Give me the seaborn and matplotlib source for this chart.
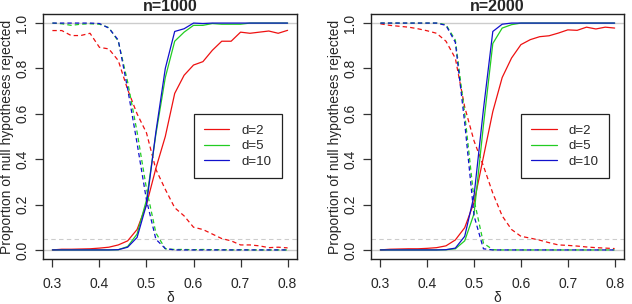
import numpy as np
import pandas as pd
import seaborn as sns
import matplotlib as mpl
mpl.use('Agg')
import matplotlib.pyplot as plt
from matplotlib.lines import Line2D

# grid of delta values
delta = [0.30, 0.32, 0.34, 0.36, 0.38, 0.40, 0.42, 0.44, 0.46, 0.48, 0.50, 0.52, 0.54,
         0.56, 0.58, 0.60, 0.62, 0.64, 0.66, 0.68, 0.70, 0.72, 0.74, 0.76, 0.78, 0.80]

# n = 1000, solid lines
alt_d2_1000 = [0.000, 0.003, 0.003, 0.004, 0.005, 0.008, 0.012, 0.022, 0.040, 0.090, 0.200, 0.360, 0.500,
               0.690, 0.770, 0.815, 0.830, 0.880, 0.920, 0.920, 0.960, 0.955, 0.960, 0.965, 0.955, 0.968]
alt_d5_1000 = [0.000, 0.000, 0.000, 0.000, 0.000, 0.000, 0.000, 0.001, 0.015, 0.070, 0.220, 0.510, 0.760,
               0.920, 0.960, 0.990, 0.990, 0.998, 0.995, 0.995, 0.995, 1.000, 1.000, 1.000, 1.000, 1.000]
alt_d10_1000 = [0.000, 0.000, 0.000, 0.000, 0.000, 0.000, 0.000, 0.001, 0.012, 0.055, 0.200, 0.520, 0.800,
                0.963, 0.975, 1.000, 0.998, 1.000, 1.000, 1.000, 1.000, 1.000, 1.000, 1.000, 1.000, 1.000]
# n = 1000, dashed lines
null_d2_1000 = [0.967, 0.967, 0.945, 0.945, 0.955, 0.893, 0.886, 0.835, 0.707, 0.600, 0.516, 0.355, 0.267,
                0.186, 0.150, 0.100, 0.090, 0.070, 0.050, 0.040, 0.022, 0.022, 0.018, 0.010, 0.012, 0.009]
null_d5_1000 = [1.000, 0.997, 0.990, 0.995, 0.997, 0.995, 0.980, 0.920, 0.740, 0.520, 0.270, 0.075, 0.005,
                0.002, 0.002, 0.001, 0.002, 0.001, 0.001, 0.000, 0.001, 0.000, 0.000, 0.000, 0.000, 0.000]
null_d10_1000 = [1.000, 1.000, 1.000, 1.000, 1.000, 0.998, 0.978, 0.925, 0.710, 0.470, 0.220, 0.047, 0.006,
                 0.000, 0.000, 0.000, 0.000, 0.000, 0.000, 0.000, 0.000, 0.000, 0.000, 0.000, 0.000, 0.000]

# n = 2000, solid lines
alt_d2_2000 = [0.000, 0.003, 0.004, 0.005, 0.005, 0.007, 0.010, 0.018, 0.044, 0.098, 0.210, 0.410, 0.610,
               0.760, 0.846, 0.905, 0.927, 0.940, 0.944, 0.956, 0.970, 0.968, 0.982, 0.974, 0.982, 0.978]
alt_d5_2000 = [0.000, 0.000, 0.000, 0.000, 0.000, 0.000, 0.000, 0.001, 0.005, 0.040, 0.160, 0.550, 0.910,
               0.978, 0.993, 1.000, 1.000, 1.000, 1.000, 1.000, 1.000, 1.000, 1.000, 1.000, 1.000, 1.000]
alt_d10_2000 = [0.000, 0.000, 0.000, 0.000, 0.000, 0.000, 0.000, 0.001, 0.008, 0.060, 0.240, 0.620, 0.963,
                0.995, 1.000, 1.000, 1.000, 1.000, 1.000, 1.000, 1.000, 1.000, 1.000, 1.000, 1.000, 1.000]
# n = 2000, dashed lines
null_d2_2000 = [0.997, 0.990, 0.986, 0.982, 0.975, 0.966, 0.955, 0.920, 0.845, 0.630, 0.480, 0.370, 0.250,
                0.150, 0.090, 0.060, 0.052, 0.043, 0.032, 0.022, 0.020, 0.017, 0.013, 0.010, 0.008, 0.006]
null_d5_2000 = [1.000, 1.000, 1.000, 1.000, 1.000, 1.000, 1.000, 0.993, 0.925, 0.600, 0.220, 0.030, 0.001,
                0.000, 0.000, 0.000, 0.000, 0.000, 0.000, 0.000, 0.000, 0.000, 0.000, 0.000, 0.000, 0.000]
null_d10_2000 = [1.000, 1.000, 1.000, 1.000, 1.000, 1.000, 1.000, 0.990, 0.915, 0.560, 0.150, 0.005, 0.000,
                 0.000, 0.000, 0.000, 0.000, 0.000, 0.000, 0.000, 0.000, 0.000, 0.000, 0.000, 0.000, 0.000]

d_labels = ["d=2", "d=5", "d=10"]
colors = {"d=2": "#ee1111", "d=5": "#22cc22", "d=10": "#1111cc"}

series = {
    1000: {"alt": [alt_d2_1000, alt_d5_1000, alt_d10_1000],
           "null": [null_d2_1000, null_d5_1000, null_d10_1000]},
    2000: {"alt": [alt_d2_2000, alt_d5_2000, alt_d10_2000],
           "null": [null_d2_2000, null_d5_2000, null_d10_2000]},
}

rows = []
for n, tests in series.items():
    for test, vals in tests.items():
        for lab, ys in zip(d_labels, vals):
            for x, y in zip(delta, ys):
                rows.append((n, test, lab, x, y))
df = pd.DataFrame(rows, columns=["n", "test", "d", "delta", "prop"])

sns.set_style("white")
plt.rcParams['font.family'] = ['Liberation Sans', 'DejaVu Sans']

fig = plt.figure(figsize=(6.32, 3.04), dpi=100)
positions = {1000: [43 / 632, 45 / 304, 254 / 632, 245 / 304],
             2000: [371 / 632, 45 / 304, 253 / 632, 245 / 304]}

for n in [1000, 2000]:
    ax = fig.add_axes(positions[n])
    # reference lines
    ax.axhline(1.0, color="#cccccc", lw=1.0, zorder=1)
    ax.axhline(0.0, color="#cccccc", lw=1.0, zorder=1)
    ax.axhline(0.05, color="#cccccc", lw=0.8, ls=(0, (4, 3)), zorder=1)

    sub = df[df["n"] == n]
    sns.lineplot(data=sub, x="delta", y="prop", hue="d", style="test",
                 hue_order=d_labels, palette=colors, style_order=["alt", "null"],
                 dashes={"alt": "", "null": (3.5, 2.5)}, estimator=None,
                 legend=False, lw=0.9, ax=ax, zorder=3)

    ax.set_xlim(0.28, 0.82)
    ax.set_ylim(-0.04, 1.04)
    ax.set_xticks([0.3, 0.4, 0.5, 0.6, 0.7, 0.8])
    ax.set_yticks([0.0, 0.2, 0.4, 0.6, 0.8, 1.0])
    ax.set_xticklabels(["0.3", "0.4", "0.5", "0.6", "0.7", "0.8"])
    ax.set_yticklabels(["0.0", "0.2", "0.4", "0.6", "0.8", "1.0"], rotation=90, va="center")
    ax.tick_params(axis="both", direction="out", length=6, width=0.9, color="#333333",
                   labelsize=10, bottom=True, left=True)
    ax.tick_params(axis="x", pad=7)
    ax.tick_params(axis="y", pad=4)
    for sp in ax.spines.values():
        sp.set_visible(True)
        sp.set_color("#222222")
        sp.set_linewidth(1.0)

    ax.set_title("n=%d" % n, fontsize=11.5, fontweight="bold", pad=2)
    ax.set_xlabel("δ", fontsize=10, labelpad=0)
    ax.set_ylabel("Proportion of null hypotheses rejected", fontsize=10, labelpad=0.5)

    handles = [Line2D([0], [0], color=colors[lab], lw=0.9) for lab in d_labels]
    leg = ax.legend(handles, d_labels, loc="upper left", bbox_to_anchor=(0.6, 0.6),
                    bbox_transform=ax.transData, fontsize=9.5, frameon=True, fancybox=False,
                    framealpha=1, edgecolor="#222222", handlelength=1.9, handletextpad=0.9,
                    labelspacing=0.25, borderpad=0.8, borderaxespad=0)
    leg.get_frame().set_linewidth(0.9)

fig.savefig("out.png", dpi=100)
